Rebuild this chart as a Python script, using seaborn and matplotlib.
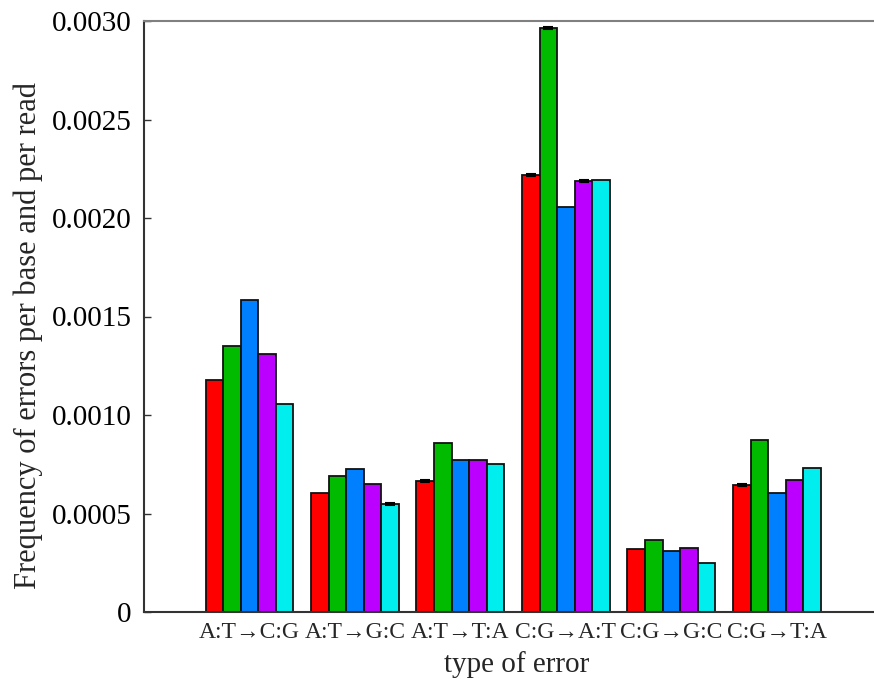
import numpy as np
import pandas as pd
import matplotlib
matplotlib.use("Agg")
import matplotlib.pyplot as plt
import seaborn as sns

categories = ["A:T→C:G", "A:T→G:C", "A:T→T:A", "C:G→A:T", "C:G→G:C", "C:G→T:A"]
samples = ["s1", "s2", "s3", "s4", "s5"]
colors = ["#ff0000", "#00bb00", "#0080ff", "#bb00ff", "#00eeee"]

# mean error frequency per sample (rows: samples, columns: error types)
s1 = [0.001178, 0.000604, 0.000665, 0.002218, 0.000320, 0.000645]
s2 = [0.001350, 0.000690, 0.000858, 0.002964, 0.000365, 0.000873]
s3 = [0.001584, 0.000726, 0.000772, 0.002056, 0.000310, 0.000604]
s4 = [0.001310, 0.000650, 0.000772, 0.002188, 0.000325, 0.000670]
s5 = [0.001056, 0.000548, 0.000751, 0.002193, 0.000249, 0.000731]

# standard errors (0 = too small to show)
e1 = [0.0, 0.0, 0.000005, 0.000004, 0.0, 0.000006]
e2 = [0.0, 0.0, 0.0, 0.000005, 0.0, 0.0]
e3 = [0.0, 0.0, 0.0, 0.0, 0.0, 0.0]
e4 = [0.0, 0.0, 0.0, 0.000004, 0.0, 0.0]
e5 = [0.0, 0.000006, 0.0, 0.0, 0.0, 0.0]

values = [s1, s2, s3, s4, s5]
errors = [e1, e2, e3, e4, e5]

df = pd.DataFrame({
    "type": categories * len(samples),
    "sample": np.repeat(samples, len(categories)),
    "freq": np.concatenate(values),
    "err": np.concatenate(errors),
})

sns.set_style("white")
plt.rcParams["font.family"] = ["Liberation Serif", "DejaVu Serif"]

fig = plt.figure(figsize=(8.74, 6.82), dpi=100)
ax = fig.add_axes([144 / 874, 70 / 682, 730 / 874, 591 / 682])

sns.barplot(data=df, x="type", y="freq", hue="sample", order=categories,
            hue_order=samples, palette=colors, errorbar=None, width=0.834,
            edgecolor="#111111", linewidth=1.3, saturation=1, legend=False, ax=ax)

# error bars at the bar centres, only where the spread is visible
for patch_group, s in zip(ax.containers, samples):
    sub = df[df["sample"] == s].set_index("type").loc[categories]
    xs = np.array([p.get_x() + p.get_width() / 2 for p in patch_group])
    keep = sub["err"].values > 0
    if keep.any():
        ax.errorbar(xs[keep], sub["freq"].values[keep], yerr=sub["err"].values[keep],
                    fmt="none", ecolor="black", elinewidth=1, capsize=3.5, capthick=1.5)

ax.set_xlim(-1.0, 5.92)
ax.set_ylim(0, 0.003)
ax.set_yticks([0, 0.0005, 0.0010, 0.0015, 0.0020, 0.0025, 0.0030])
ax.set_yticklabels(["0", "0.0005", "0.0010", "0.0015", "0.0020", "0.0025", "0.0030"])

ax.tick_params(axis="y", direction="in", length=5, width=1, pad=9,
               labelsize=21, left=True, colors="#333333", labelcolor="black")
ax.tick_params(axis="x", length=0, pad=7, labelsize=17)

for side in ["left", "bottom"]:
    ax.spines[side].set_color("#333333")
    ax.spines[side].set_linewidth(1.5)
ax.spines["top"].set_color("#808080")
ax.spines["top"].set_linewidth(1.5)
ax.spines["right"].set_visible(False)

ax.set_xlabel("type of error", fontsize=21)
ax.set_ylabel("Frequency of errors per base and per read", fontsize=22)
ax.xaxis.set_label_coords(0.51, -0.066)
ax.yaxis.set_label_coords(-0.138, 0.468)

fig.savefig("out.png", dpi=100)
